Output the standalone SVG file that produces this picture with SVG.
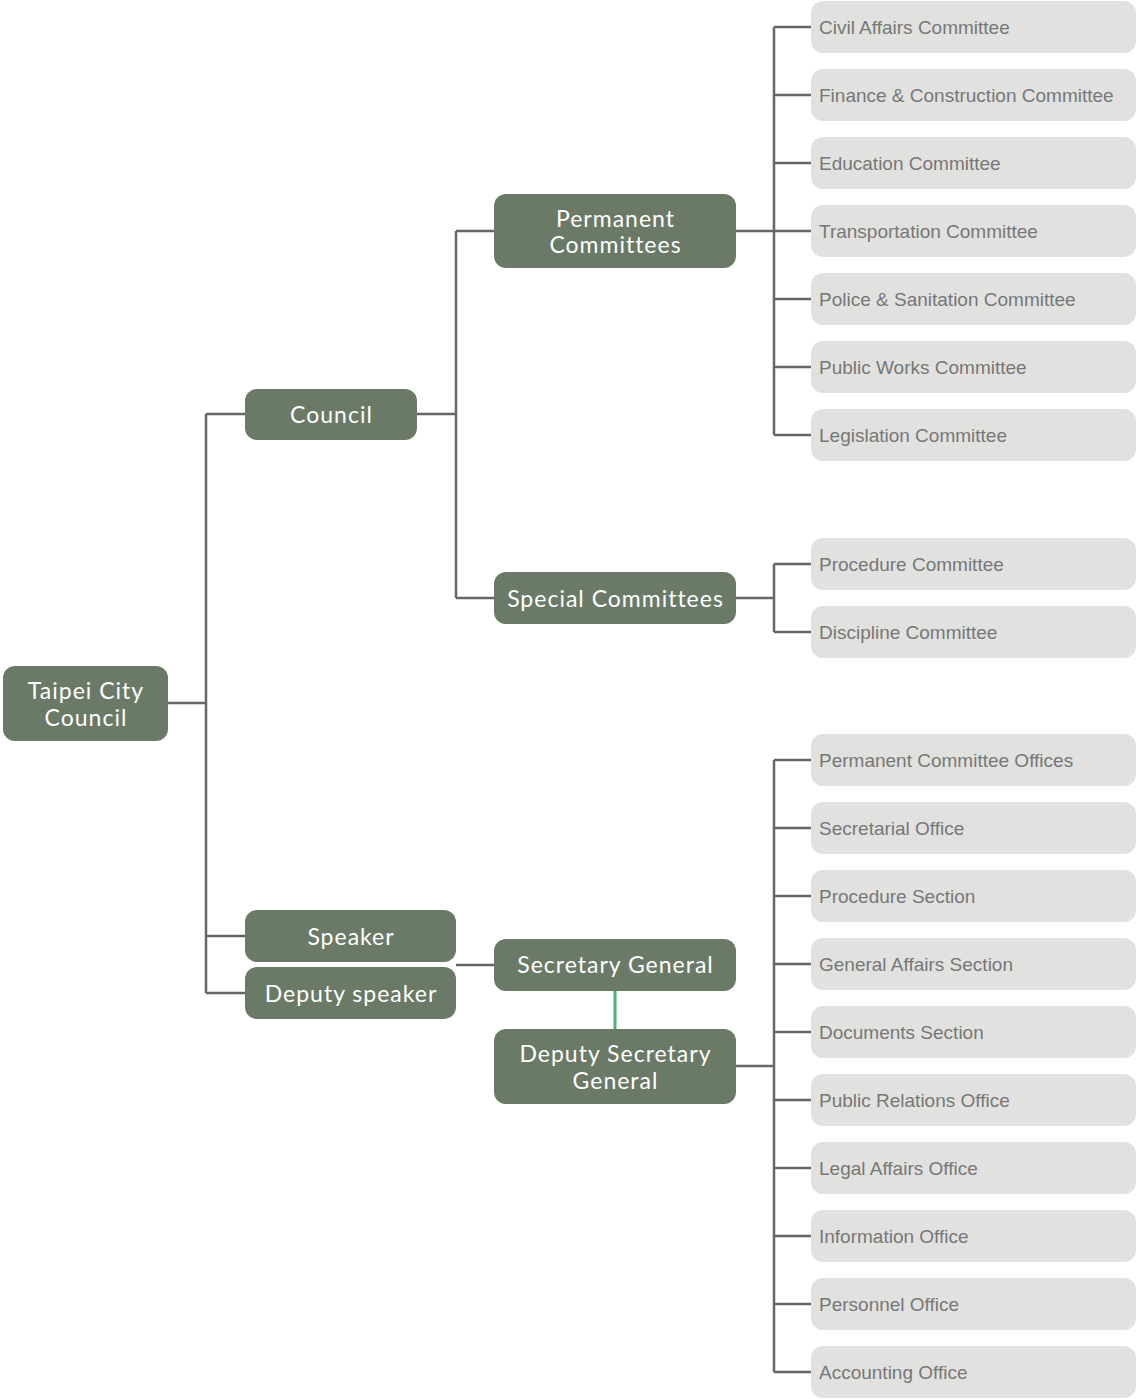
<svg xmlns="http://www.w3.org/2000/svg" width="1138" height="1399" viewBox="0 0 1138 1399">
<style>
.n rect{fill:#6a7a67}
.n text{fill:#ffffff;font-family:Lato,"Noto Sans",sans-serif;font-size:23px;text-anchor:middle;letter-spacing:1px}
.l rect{fill:#e1e2df}
.l text{fill:#777777;font-family:"Liberation Sans",Arial,sans-serif;font-size:19px}
.c path{fill:none;stroke:#666666;stroke-width:2.5}
</style>
<rect width="1138" height="1399" fill="#ffffff"/>
<g class="c" id="connectors">
<path d="M168 703H206M206 414V993M206 414H245M206 936H245M206 993H245"/>
<path d="M417 414H456M456 231V598M456 231H494M456 598H494"/>
<path d="M736 231H774M774 27V435M774 27H811M774 95H811M774 163H811M774 231H811M774 299H811M774 367H811M774 435H811"/>
<path d="M736 598H774M774 564V632M774 564H811M774 632H811"/>
<path d="M456 965H494"/>
<path d="M615 991V1029" style="stroke:#4caf7d;stroke-width:3"/>
<path d="M736 1066H774M774 760V1372M774 760H811M774 828H811M774 896H811M774 964H811M774 1032H811M774 1100H811M774 1168H811M774 1236H811M774 1304H811M774 1372H811"/>
</g>
<g class="n" id="taipei"><rect x="3" y="666" width="165" height="75" rx="12"/><text x="86" y="699">Taipei City</text><text x="86" y="726">Council</text></g>
<g class="n" id="council"><rect x="245" y="389" width="172" height="51" rx="12"/><text x="331.5" y="423">Council</text></g>
<g class="n" id="permanent"><rect x="494" y="194" width="242" height="74" rx="12"/><text x="615.5" y="227">Permanent</text><text x="615.5" y="253">Committees</text></g>
<g class="n" id="special"><rect x="494" y="572" width="242" height="52" rx="12"/><text x="615.5" y="607">Special Committees</text></g>
<g class="n" id="speaker"><rect x="245" y="910" width="211" height="52" rx="12"/><text x="351" y="945">Speaker</text></g>
<g class="n" id="deputyspeaker"><rect x="245" y="967" width="211" height="52" rx="12"/><text x="351" y="1002">Deputy speaker</text></g>
<g class="n" id="secgen"><rect x="494" y="939" width="242" height="52" rx="12"/><text x="615.5" y="973">Secretary General</text></g>
<g class="n" id="depsecgen"><rect x="494" y="1029" width="242" height="75" rx="12"/><text x="615.5" y="1062">Deputy Secretary</text><text x="615.5" y="1089">General</text></g>
<g class="l" id="civil"><rect x="811" y="1" width="325" height="52" rx="12"/><text x="819" y="34">Civil Affairs Committee</text></g>
<g class="l" id="finance"><rect x="811" y="69" width="325" height="52" rx="12"/><text x="819" y="102">Finance &amp; Construction Committee</text></g>
<g class="l" id="education"><rect x="811" y="137" width="325" height="52" rx="12"/><text x="819" y="170">Education Committee</text></g>
<g class="l" id="transportation"><rect x="811" y="205" width="325" height="52" rx="12"/><text x="819" y="238">Transportation Committee</text></g>
<g class="l" id="police"><rect x="811" y="273" width="325" height="52" rx="12"/><text x="819" y="306">Police &amp; Sanitation Committee</text></g>
<g class="l" id="publicworks"><rect x="811" y="341" width="325" height="52" rx="12"/><text x="819" y="374">Public Works Committee</text></g>
<g class="l" id="legislation"><rect x="811" y="409" width="325" height="52" rx="12"/><text x="819" y="442">Legislation Committee</text></g>
<g class="l" id="procedure"><rect x="811" y="538" width="325" height="52" rx="12"/><text x="819" y="571">Procedure Committee</text></g>
<g class="l" id="discipline"><rect x="811" y="606" width="325" height="52" rx="12"/><text x="819" y="639">Discipline Committee</text></g>
<g class="l" id="pcoffices"><rect x="811" y="734" width="325" height="52" rx="12"/><text x="819" y="767">Permanent Committee Offices</text></g>
<g class="l" id="secretarial"><rect x="811" y="802" width="325" height="52" rx="12"/><text x="819" y="835">Secretarial Office</text></g>
<g class="l" id="procsection"><rect x="811" y="870" width="325" height="52" rx="12"/><text x="819" y="903">Procedure Section</text></g>
<g class="l" id="general"><rect x="811" y="938" width="325" height="52" rx="12"/><text x="819" y="971">General Affairs Section</text></g>
<g class="l" id="documents"><rect x="811" y="1006" width="325" height="52" rx="12"/><text x="819" y="1039">Documents Section</text></g>
<g class="l" id="pr"><rect x="811" y="1074" width="325" height="52" rx="12"/><text x="819" y="1107">Public Relations Office</text></g>
<g class="l" id="legal"><rect x="811" y="1142" width="325" height="52" rx="12"/><text x="819" y="1175">Legal Affairs Office</text></g>
<g class="l" id="information"><rect x="811" y="1210" width="325" height="52" rx="12"/><text x="819" y="1243">Information Office</text></g>
<g class="l" id="personnel"><rect x="811" y="1278" width="325" height="52" rx="12"/><text x="819" y="1311">Personnel Office</text></g>
<g class="l" id="accounting"><rect x="811" y="1346" width="325" height="52" rx="12"/><text x="819" y="1379">Accounting Office</text></g>
</svg>
